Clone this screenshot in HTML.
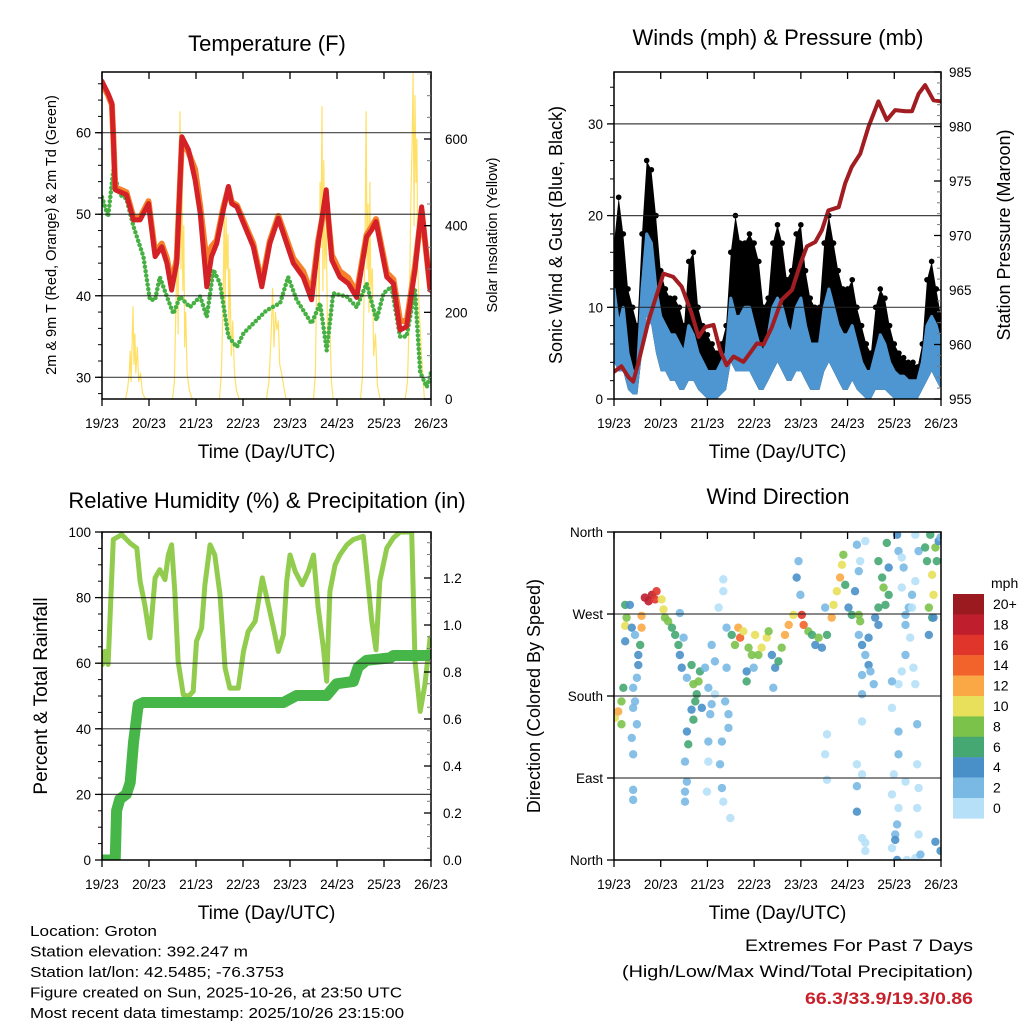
<!DOCTYPE html>
<html><head><meta charset="utf-8"><style>
html,body{margin:0;padding:0;background:#fff;}
svg{display:block;font-family:"Liberation Sans",sans-serif;}
</style></head><body>
<svg id="chart" width="1024" height="1024" viewBox="0 0 1024 1024" xmlns="http://www.w3.org/2000/svg"></svg>
<script>
// ---------- Temperature panel data ----------
const tempT=[0,0.13,0.21,0.24,0.28,0.52,0.67,0.81,0.99,1.13,1.27,1.38,1.48,1.59,1.70,1.84,1.98,2.09,2.23,2.33,2.44,2.58,2.69,2.76,2.87,3.01,3.22,3.40,3.57,3.75,3.93,4.07,4.28,4.46,4.60,4.77,4.89,5.06,5.24,5.42,5.63,5.74,5.83,6.06,6.20,6.34,6.48,6.66,6.80,6.98];
const temp2m=[66.3,64.8,63.6,59.5,53,52.4,49.3,49.3,51.3,44.8,46,44,40.7,44,59.5,57.9,54.2,50.1,41.1,44.8,46.4,50.5,53.4,51.3,50.9,48.9,46,41.1,46.4,49.5,46.4,44,42.3,39.5,46.4,53,44.4,42.3,41.5,39.8,47.2,48.1,49.1,42.3,41.5,35.8,36.2,43.2,50.9,40.7];
const temp9m=[66.0,64.6,63.4,59.6,53.3,52.7,49.6,49.6,51.6,45.3,46.4,44.6,41.5,44.5,59.0,57.6,55.5,51.0,44.0,46.0,46.8,50.8,53.2,51.5,51.1,49.2,46.4,41.5,46.7,49.8,46.9,44.6,43.0,40.2,46.8,52.0,45.0,43.0,42.2,40.3,47.5,48.5,49.4,42.8,42.0,37.0,36.8,43.6,50.5,41.0];
const dewT=[0,0.13,0.24,0.38,0.52,0.67,0.88,1.02,1.13,1.23,1.38,1.52,1.66,1.87,2.09,2.23,2.37,2.51,2.69,2.87,3.01,3.22,3.50,3.79,3.96,4.14,4.46,4.64,4.78,4.92,5.21,5.42,5.63,5.84,5.99,6.16,6.34,6.48,6.66,6.77,6.91,7.0];
const dew2m=[52.1,49.7,55.4,52.4,51.9,48.5,44.8,39.5,39.5,42.3,39.9,37.8,39.9,38.6,39.9,37.4,43.2,41.5,35,33.7,35.4,36.6,38.2,39.1,42.3,39.5,36.6,39.1,33.3,40.3,39.9,38.6,41.5,37,40.3,41.1,35,35,40.7,30.6,28.8,30.6];
const solarT=[0.50,0.54,0.58,0.60,0.62,0.64,0.66,0.68,0.70,0.72,0.75,0.78,0.82,0.86,0.92,
1.50,1.54,1.57,1.60,1.62,1.64,1.66,1.68,1.70,1.72,1.74,1.76,1.78,1.81,1.86,1.92,
2.50,2.54,2.58,2.60,2.62,2.64,2.66,2.68,2.70,2.72,2.75,2.78,2.82,2.86,2.92,
3.50,3.55,3.60,3.63,3.66,3.69,3.72,3.75,3.78,3.82,3.88,3.92,
4.50,4.54,4.57,4.60,4.62,4.64,4.66,4.68,4.70,4.72,4.74,4.77,4.80,4.84,4.88,4.92,
5.50,5.54,5.57,5.60,5.62,5.64,5.66,5.68,5.70,5.72,5.75,5.78,5.82,5.86,5.92,
6.45,6.50,6.54,6.57,6.60,6.62,6.64,6.66,6.68,6.70,6.72,6.75,6.80,6.86];
const solarW=[0,20,60,110,40,130,213,80,150,60,120,40,60,15,0,
0,40,200,350,150,520,663,300,580,250,400,120,200,60,20,0,
0,60,250,467,200,420,300,380,150,300,100,180,60,20,0,
0,40,150,255,120,200,160,180,80,60,20,0,
0,60,300,400,200,500,350,675,250,550,300,400,150,200,40,0,
0,50,200,400,663,300,450,200,500,250,300,100,150,30,0,
0,40,200,450,600,751,400,700,500,600,300,200,100,0];
// ---------- Winds panel data ----------
const windStartDay=0, windStepDay=0.1;
const gustMph=[17,22,18,12,10,8,18,26,25,20,14,12,11,11,10,8,15,16,10,8,7,6,5,6,8,16,20,17,17,18,17,15,10,11,17,19,17,13,14,18,19,14,11,10,10,17,20,17,14,12,12,13,10,8,6,5,10,12,11,8,6,5,4.5,4,4,3.5,6,13,15,12,9];
const windHiMph=[12,8,10,5,3,3,12,18,17,12,9,8,7,7,6,5,8,7,5,4,3,3,3,4,5,11,9,9,10,10,8,6,5,7,10,11,10,8,7,10,11,8,6,6,6,10,12,10,8,7,7,8,6,4,3,3,5,7,6,4,3,2.5,2.5,2,2,2,4,8,9,8,6];
const windLoMph=[4,3,3,1,0.5,0.5,5,9,8,5,3,3,2,2,1,1,2,2,1,0.5,0,0,0,0.5,1,4,3,3,3,3,2,1,1,2,3,4,3,2,2,3,3,2,1,1,1,3,4,3,2,1,1,2,1,0.5,0,0,1,1,1,0.5,0,0,0,0,0,0,1,2,3,2,1];
const presT=[0,0.16,0.31,0.41,0.52,0.74,0.88,1.06,1.27,1.45,1.66,1.81,1.95,2.13,2.27,2.41,2.56,2.77,2.91,3.06,3.2,3.38,3.59,3.81,3.99,4.13,4.31,4.45,4.59,4.81,4.95,5.09,5.27,5.45,5.66,5.84,6.02,6.24,6.38,6.52,6.66,6.84,7.0];
const presMb=[957.5,958,957,956.6,958.3,962.2,964.1,966.5,966.2,965.3,962.9,960.7,961.6,961.8,959.5,958.1,958.9,958.4,959.2,960.1,960,961.6,964.1,965,967.4,969,969.4,970.5,972.3,972.6,974.8,976.3,977.5,980,982.3,980.6,981.5,981.4,981.4,983,983.8,982.4,982.3];
// ---------- RH panel data ----------
const rhT=[0.01,0.06,0.13,0.24,0.42,0.6,0.74,0.81,0.91,1.02,1.13,1.23,1.34,1.41,1.48,1.55,1.62,1.73,1.84,1.94,2.01,2.12,2.19,2.3,2.4,2.51,2.62,2.72,2.9,3.01,3.11,3.26,3.41,3.54,3.65,3.75,3.86,3.93,4,4.11,4.26,4.39,4.5,4.6,4.71,4.78,4.85,4.96,5.06,5.21,5.35,5.56,5.63,5.74,5.83,5.91,6.06,6.2,6.34,6.59,6.66,6.77,6.87,6.98];
const rhPct=[59.6,63.6,59.6,97.7,99.2,96.6,95.1,85,77.8,67.7,86,88.5,85.5,93,96.1,81.9,60.6,50.4,49.9,51.4,66.7,70.7,83.9,96.1,93,80.9,58.5,52.4,52.4,63.6,69.7,72.8,86,77.8,70.7,63.6,68.7,85,93,88,83.9,88,93,76.8,64.6,54.5,81.9,90,93,96.1,97.7,98.7,89,72.8,64.1,85,95.1,98.2,100,100,60.6,45.3,53.5,67.7];
const precT=[0,0.28,0.31,0.38,0.52,0.6,0.67,0.77,0.88,3.86,4.14,4.78,4.99,5.35,5.45,5.63,6.13,6.2,7];
const precIn=[0,0,0.21,0.26,0.28,0.33,0.50,0.66,0.67,0.67,0.70,0.70,0.75,0.76,0.82,0.85,0.86,0.87,0.87];
// ---------- Wind direction data ----------
const dirT=[0.02,0.09,0.16,0.16,0.2,0.24,0.27,0.24,0.34,0.24,0.38,0.45,0.52,0.56,0.52,0.49,0.41,0.45,0.41,0.49,0.38,0.41,0.41,0.41,0.59,0.59,0.66,0.74,0.81,0.88,0.91,1.02,1.06,1.09,1.16,1.24,1.31,1.38,1.41,1.45,1.41,1.49,1.56,1.66,1.7,1.77,1.81,1.84,1.74,1.88,1.66,1.7,1.59,1.56,1.52,1.52,1.56,1.52,1.95,2.02,2.09,2.16,2.16,2.09,2.06,2.02,2.02,1.99,2.24,2.34,2.34,2.41,2.41,2.38,2.45,2.45,2.31,2.27,2.31,2.34,2.49,2.52,2.66,2.7,2.77,2.59,2.88,2.95,3.02,3.09,3.16,3.27,3.31,2.84,2.84,2.99,3.38,3.45,3.41,3.52,3.59,3.66,3.74,3.84,3.91,3.95,3.99,4.02,4.06,4.16,4.24,4.31,4.38,4.45,4.56,4.52,4.52,4.56,4.56,4.66,4.7,4.77,4.84,4.88,4.91,4.95,5.02,5.09,5.16,5.24,5.27,5.24,5.27,5.38,5.2,5.24,5.31,5.45,5.38,5.45,5.49,5.31,5.56,5.31,5.31,5.2,5.31,5.2,5.2,5.31,5.38,5.38,5.66,5.74,5.77,5.81,5.66,5.59,5.66,5.88,5.88,5.84,6.06,6.09,6.16,6.2,6.16,6.24,6.24,6.31,6.38,6.34,6.24,6.16,6.09,5.95,5.95,6.09,6.09,5.99,6.24,5.95,6.09,6.06,6.02,6.02,5.95,6.06,6.27,6.45,6.56,6.45,6.52,6.45,6.38,6.41,6.45,6.49,6.49,6.52,6.49,6.52,6.66,6.7,6.81,6.84,6.74,6.81,6.88,6.91,6.95,6.77,6.74,6.88,6.99,6.84,6.99];
const dirDeg=[156,163,174,149,189,280,266,257,280,240,255,247,225,236,214,200,189,174,167,149,134,116,77,66,268,255,288,284,291,286,295,286,275,266,262,255,247,236,225,211,271,244,200,214,193,182,196,207,174,167,165,154,127,141,108,75,86,64,211,189,171,182,218,236,160,130,108,75,277,295,308,255,211,174,160,145,130,105,79,64,46,247,255,244,251,236,233,225,247,225,233,244,251,207,196,211,225,211,189,218,233,247,258,269,310,328,291,269,258,251,247,236,244,233,247,277,116,138,88,266,280,295,310,324,335,302,277,269,295,269,262,317,328,350,346,247,236,244,225,214,207,203,193,182,152,105,94,81,53,24,19,10,328,310,299,280,277,266,258,291,321,348,357,339,332,321,299,269,258,277,291,244,225,207,193,196,167,141,116,94,86,72,57,39,28,22,13,0,0,2,6,357,339,306,277,211,193,149,105,79,57,28,343,328,313,291,277,266,343,328,350,357,247,20,10,266,354];
const dirSpd=[10,12,9,8,7,6,9,10,4,4,4,3,4,7,4,2,2,3,2,2,3,3,3,3,13,12,18,18,18,17,16,10,10,8,8,7,6,6,4,4,3,3,3,6,8,7,8,6,6,4,4,7,6,4,3,3,2,2,3,2,2,1,2,2,2,2,1,1,1,1,0,2,3,3,2,3,2,3,2,1,0,7,13,14,10,8,9,8,10,8,10,10,9,4,6,3,4,4,2,6,8,12,12,10,4,3,2,16,14,8,6,4,8,4,6,3,1,1,1,12,11,11,13,10,8,6,5,6,4,8,9,3,1,1,2,3,4,4,2,4,3,2,2,3,1,1,1,2,4,1,1,1,6,6,9,6,7,5,4,6,4,6,4,2,1,2,1,2,2,2,2,1,2,1,1,2,1,2,2,1,1,1,1,3,3,4,1,4,1,1,3,1,2,1,1,1,1,2,1,1,1,1,6,6,10,10,8,7,8,6,4,6,4,5,4,4,3];
const speedLabels=["20+","18","16","14","12","10","8","6","4","2","0"];
const speedColors=["#9b1a1f","#bf1e2d","#e0352b","#f2632b","#f9a845","#e8e05a","#7bc24a","#45a771","#4a90c8","#7ab9e4","#b5e0f7"];
const dayLabels=["19/23","20/23","21/23","22/23","23/23","24/23","25/23","26/23"];
const tempTicks=[30,40,50,60], solarTicks=[0,200,400,600];
const windTicks=[0,10,20,30], presTicks=[955,960,965,970,975,980,985];
const rhTicks=[0,20,40,60,80,100], precTicks=[0,0.2,0.4,0.6,0.8,1.0,1.2];
const dirTicks=[0,90,180,270,360], dirTickLabels=["North","East","South","West","North"];

const NS="http://www.w3.org/2000/svg";
const svg=document.getElementById('chart');
function mk(tag,attrs,parent){const e=document.createElementNS(NS,tag);for(const k in attrs)e.setAttribute(k,attrs[k]);(parent||svg).appendChild(e);return e;}
function txt(s,attrs,parent){const e=mk('text',attrs,parent);e.textContent=s;return e;}
function lin(d0,d1,r0,r1){return v=>r0+(v-d0)*(r1-r0)/(d1-d0);}

function panel(id,x0,x1,y0,y1){
  const g=mk('g',{});
  
  
  const cp=mk('clipPath',{id:id+'-clip'},g);
  mk('rect',{x:x0,y:y0,width:x1-x0,height:y1-y0},cp);
  const plot=mk('g',{'clip-path':'url(#'+id+'-clip)'},g);
  
  
  return {g,plot,x:lin(0,7,x0,x1),x0,x1,y0,y1};
}
function grid(P,ticks,sy){
  ticks.forEach(v=>{const y=sy(v);if(y>P.y0+1&&y<P.y1-1){const l=mk('line',{x1:P.x0,x2:P.x1,y1:y,y2:y,stroke:'#222','stroke-width':1.2,opacity:0.85},P.g);
    
    }});
}
function frame(P){
  const r=mk('rect',{x:P.x0,y:P.y0,width:P.x1-P.x0,height:P.y1-P.y0,fill:'none',stroke:'#000','stroke-width':1.5},P.g);
  
  
  dayLabels.forEach((s,i)=>{const x=P.x(i);
    mk('line',{x1:x,x2:x,y1:P.y1,y2:P.y1+7,stroke:'#000','stroke-width':1.3},P.g);
    mk('line',{x1:x,x2:x,y1:P.y0,y2:P.y0+7,stroke:'#000','stroke-width':1.3},P.g);
    const t=txt(s,{x:x,y:P.y1+29,'font-size':13.5,'text-anchor':'middle'},P.g);
    
    
  });
  const tt=txt('Time (Day/UTC)',{x:(P.x0+P.x1)/2,y:P.y1+59,'font-size':19,'text-anchor':'middle'},P.g);
  
  
}
function leftAxis(P,ticks,sy,labels,minorStep,dmin,dmax){
  if(minorStep){for(let v=dmin;v<=dmax+1e-9;v+=minorStep){const y=sy(v);mk('line',{x1:P.x0-4,x2:P.x0,y1:y,y2:y,stroke:'#000','stroke-width':1},P.g);}}
  ticks.forEach((v,i)=>{const y=sy(v);
    mk('line',{x1:P.x0-7,x2:P.x0,y1:y,y2:y,stroke:'#000','stroke-width':1.3},P.g);
    const t=txt(labels?labels[i]:String(v),{x:P.x0-11,y:y+5,'font-size':13.5,'text-anchor':'end'},P.g);
    
    });
}
function rightAxis(P,ticks,sy,fmt,minorStep,dmin,dmax,off){
  for(let v=dmin;v<=dmax+1e-9;v+=minorStep){const y=sy(v);mk('line',{x1:P.x1-4,x2:P.x1,y1:y,y2:y,stroke:'#777','stroke-width':1},P.g);}
  ticks.forEach(v=>{const y=sy(v);
    mk('line',{x1:P.x1-7,x2:P.x1,y1:y,y2:y,stroke:'#000','stroke-width':1.3},P.g);
    const t=txt(fmt(v),{x:P.x1+off,y:y+5,'font-size':13.5,'text-anchor':'start'},P.g);
    
    });
}
function vtitle(s,x,cy,fs,g,name){const t=txt(s,{x:x,y:cy,'font-size':fs,'text-anchor':'middle',transform:'rotate(-90 '+x+' '+cy+')'},g);
  
  }
function title(s,x,y,g,name){const t=txt(s,{x:x,y:y,'font-size':22,'text-anchor':'middle'},g);
  
  }
function path(P,xs,ys,sx,sy,attrs,name){
  const d=xs.map((t,i)=>(i?'L':'M')+sx(t).toFixed(1)+' '+sy(ys[i]).toFixed(1)).join(' ');
  const p=mk('path',Object.assign({d:d,fill:'none','stroke-linejoin':'round','stroke-linecap':'round'},attrs),P.plot);
  
  
  return p;
}

// ===== Panel 1: Temperature =====
{
  const P=panel('temperature-panel',102,431,72,399);
  const sy=lin(30,60,377.3,132.7), ss=lin(0,600,399,139);
  grid(P,tempTicks,sy);
  path(P,solarT,solarW,P.x,ss,{stroke:'#ffe066','stroke-width':1.2},'solar-insolation-line');
  path(P,dewT,dew2m,P.x,sy,{stroke:'#46b042','stroke-width':4.5,'stroke-dasharray':'0 4.5'},'dewpoint-2m-line');
  path(P,tempT,temp9m,P.x,sy,{stroke:'#f5822a','stroke-width':6},'temp-9m-line');
  path(P,tempT,temp2m,P.x,sy,{stroke:'#d42027','stroke-width':5},'temp-2m-line');
  frame(P);
  leftAxis(P,tempTicks,sy,null,2,28,66);
  rightAxis(P,solarTicks,ss,v=>String(v),50,0,750,14);
  vtitle('2m & 9m T (Red, Orange) & 2m Td (Green)',56,235,14.5,P.g,'temperature-y-axis-title');
  vtitle('Solar Insolation (Yellow)',497,235,14.5,P.g,'solar-y-axis-title');
  title('Temperature (F)',267,51,P.g,'temperature-title');
}
// ===== Panel 2: Winds =====
{
  const P=panel('winds-panel',614,941,72,399);
  const sy=lin(0,10,399,307.3), sp=lin(955,985,399,72);
  grid(P,windTicks,sy);
  const tw=gustMph.map((_,i)=>windStartDay+i*windStepDay);
  const band=(lo,hi,fill,name)=>{let d='';tw.forEach((t,i)=>{d+=(i?'L':'M')+P.x(t).toFixed(1)+' '+sy(hi[i]).toFixed(1);});
    for(let i=tw.length-1;i>=0;i--)d+='L'+P.x(tw[i]).toFixed(1)+' '+sy(lo[i]).toFixed(1);
    const p=mk('path',{d:d+'Z',fill:fill},P.plot);
    
    };
  band(windLoMph,gustMph,'#000','gust-band');
  gustMph.forEach((v,i)=>{const c=mk('circle',{cx:P.x(tw[i]),cy:sy(v),r:2.8,fill:'#000'},P.plot);
    
    });
  band(windLoMph,windHiMph,'#4d96d1','sonic-wind-band');
  path(P,tw,windHiMph,P.x,sy,{stroke:'#4d96d1','stroke-width':3},'sonic-wind-line');
  path(P,presT,presMb,P.x,sp,{stroke:'#a11d21','stroke-width':4},'station-pressure-line');
  frame(P);
  leftAxis(P,windTicks,sy,null,2,0,34);
  rightAxis(P,presTicks,sp,v=>String(v),1,955,985,8);
  vtitle('Sonic Wind & Gust (Blue, Black)',562,235,18,P.g,'wind-y-axis-title');
  vtitle('Station Pressure (Maroon)',1010,235,18,P.g,'pressure-y-axis-title');
  title('Winds (mph) & Pressure (mb)',778,45,P.g,'winds-title');
}
// ===== Panel 3: RH & precip =====
{
  const P=panel('humidity-panel',102,431,532,860);
  const sy=lin(0,100,860,532), sr=lin(0,0.2,860,813);
  grid(P,rhTicks,sy);
  path(P,rhT,rhPct,P.x,sy,{stroke:'#92cc4e','stroke-width':5},'relative-humidity-line');
  path(P,precT,precIn,P.x,sr,{stroke:'#46b648','stroke-width':11},'total-precipitation-line');
  frame(P);
  leftAxis(P,rhTicks,sy,null,5,0,100);
  rightAxis(P,precTicks,sr,v=>v.toFixed(1),0.05,0,1.35,12);
  vtitle('Percent & Total Rainfall',47,696,19,P.g,'humidity-y-axis-title');
  title('Relative Humidity (%) & Precipitation (in)',267,508,P.g,'humidity-title');
}
// ===== Panel 4: Wind direction =====
{
  const P=panel('wind-direction-panel',614,941,532,860);
  const sy=lin(0,360,860,532);
  grid(P,dirTicks,sy);
  dirT.forEach((t,i)=>{const s=dirSpd[i];const idx=Math.max(0,10-Math.min(10,Math.floor(s/2)));
    const c=mk('circle',{cx:P.x(t),cy:sy(dirDeg[i]),r:4.2,fill:speedColors[idx],opacity:0.9},P.plot);
    
    });
  frame(P);
  leftAxis(P,dirTicks,sy,dirTickLabels,0,0,0);
  vtitle('Direction (Colored By Speed)',540,696,18,P.g,'direction-y-axis-title');
  title('Wind Direction',778,504,P.g,'wind-direction-title');
  const lg=mk('g',{});
  
  
  const u=txt('mph',{x:991,y:588,'font-size':14},lg);
  
  
  speedLabels.forEach((s,i)=>{const y=594+i*20.4;
    const r=mk('rect',{x:953,y:y,width:31,height:20.6,fill:speedColors[i]},lg);
    
    
    const t=txt(s,{x:993,y:y+15,'font-size':14},lg);
    
    });
}
// ===== Footer =====
{
  const f=mk('g',{});
  
  
  const lines=[["Location: Groton",127],["Station elevation: 392.247 m",218],["Station lat/lon: 42.5485; -76.3753",254],["Figure created on Sun, 2025-10-26, at 23:50 UTC",372],["Most recent data timestamp: 2025/10/26 23:15:00",374]];
  lines.forEach((l,i)=>{const t=txt(l[0],{x:30,y:936+i*20.5,'font-size':14.5,textLength:l[1],lengthAdjust:'spacingAndGlyphs'},f);
    
    });
  const e=mk('g',{});
  
  
  let t=txt('Extremes For Past 7 Days',{x:973,y:951,'font-size':17,'text-anchor':'end',textLength:228,lengthAdjust:'spacingAndGlyphs'},e);
  
  
  t=txt('(High/Low/Max Wind/Total Precipitation)',{x:973,y:977,'font-size':17,'text-anchor':'end',textLength:351,lengthAdjust:'spacingAndGlyphs'},e);
  
  
  t=txt('66.3/33.9/19.3/0.86',{x:973,y:1004,'font-size':17,'font-weight':'bold',fill:'#c8202a','text-anchor':'end',textLength:168,lengthAdjust:'spacingAndGlyphs'},e);
  
  
}
</script>
</body></html>
